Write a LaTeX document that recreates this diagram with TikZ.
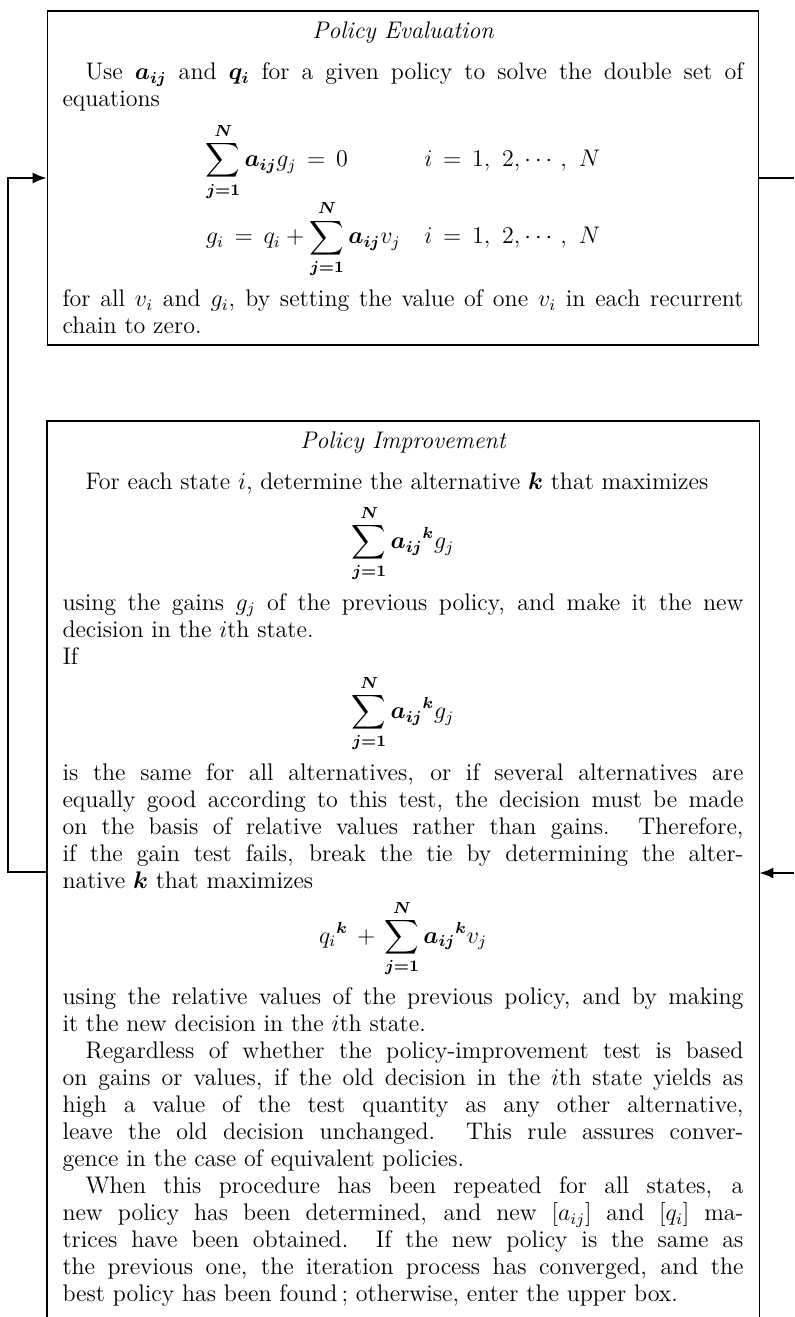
\documentclass[tikz,border=0pt]{standalone}
\usepackage{amsmath,amssymb}
\usetikzlibrary{arrows.meta,positioning}

\newcommand\boxtitle[1]{{\centering\itshape #1\par}\vspace{7pt}}
\newcommand\dispeq[2][4.5pt]{\par\vspace{#1}\centerline{$\displaystyle #2$}\vspace{#1}\noindent\ignorespaces}
\newcommand\aij{\boldsymbol{a_{ij}}}
\newcommand\bk{\boldsymbol{k}}
\newcommand\jlim{\boldsymbol{j=1}}
\newcommand\bN{\boldsymbol{N}}

\begin{document}
\begin{tikzpicture}[x=0.5pt,y=-0.5pt,>={Latex[length=7pt,width=5.5pt]},
  policybox/.style={line width=0.9pt,text width=340.5pt,inner xsep=7.5pt,
    align=justify,font=\fontsize{12}{13.5}\selectfont},
  loopline/.style={line width=0.9pt}]
  \useasboundingbox (0,0) rectangle (794,1317);
  % upper box: evaluation
  \node[policybox,draw,minimum height=167pt] (evalbox) at (403,178) {%
    \setlength\parindent{11.5pt}\tolerance=10000\hbadness=10000
    \boxtitle{Policy Evaluation}
    \indent Use\enspace $\aij$\enspace and\enspace $\boldsymbol{q_i}$\enspace for a given policy to solve the double set of\linebreak
    equations
    \dispeq[5pt]{\begin{array}{@{}l@{\quad}l@{}}
      \displaystyle\sum_{\jlim}^{\bN} \aij g_j \,=\, 0 & i \,=\, 1,\ 2,\cdots,\ N\\[6pt]
      \displaystyle g_i \,=\, q_i + \sum_{\jlim}^{\bN} \aij v_j & i \,=\, 1,\ 2,\cdots,\ N
    \end{array}}
    for all $v_i$ and $g_i$, by setting the value of one $v_i$ in each recurrent\linebreak
    chain to zero.};
  % lower box: improvement, open at the bottom
  \node[policybox,anchor=north,inner ysep=5pt] (improvebox) at (403,421) {%
    \setlength\parindent{11.5pt}\tolerance=10000\hbadness=10000
    \boxtitle{Policy Improvement}
    \indent For each state $i$, determine the alternative $\bk$ that maximizes
    \dispeq{\sum_{\jlim}^{\bN} \aij{}^{\bk} g_j}
    using the gains $g_j$ of the previous policy, and make it the new\linebreak
    decision in the $i$th state.\par\noindent
    If
    \dispeq{\sum_{\jlim}^{\bN} \aij{}^{\bk} g_j}
    is the same for all alternatives, or if several alternatives are\linebreak
    equally good according to this test, the decision must be made\linebreak
    on the basis of relative values rather than gains.\ \ Therefore,\linebreak
    if the gain test fails, break the tie by determining the alter-\linebreak
    native $\bk$ that maximizes
    \dispeq{q_i{}^{\bk} \,+\, \sum_{\jlim}^{\bN} \aij{}^{\bk} v_j}
    using the relative values of the previous policy, and by making\linebreak
    it the new decision in the $i$th state.\par
    Regardless of whether the policy-improvement test is based\linebreak
    on gains or values, if the old decision in the $i$th state yields as\linebreak
    high a value of the test quantity as any other alternative,\linebreak
    leave the old decision unchanged.\ \ This rule assures conver-\linebreak
    gence in the case of equivalent policies.\par
    When this procedure has been repeated for all states, a\linebreak
    new policy has been determined, and new $[a_{ij}]$ and $[q_i]$ ma-\linebreak
    trices have been obtained.\ \ If the new policy is the same as\linebreak
    the previous one, the iteration process has converged, and the\linebreak
    best policy has been found\,; otherwise, enter the upper box.};
  \coordinate (pagefoot) at (0,1317);
  \draw[loopline] (improvebox.west |- pagefoot) -- (improvebox.north west)
    -- (improvebox.north east) -- (improvebox.east |- pagefoot);
  % feedback loop
  \coordinate (leftbend) at (8,872);
  \coordinate (rightend) at (794,873);
  \draw[loopline,->] (improvebox.west |- leftbend) -- (leftbend) |- (evalbox.west);
  \draw[loopline] (evalbox.east) -- (evalbox.east -| rightend);
  \draw[loopline,->] (rightend) -- (rightend -| improvebox.east);
\end{tikzpicture}
\end{document}
